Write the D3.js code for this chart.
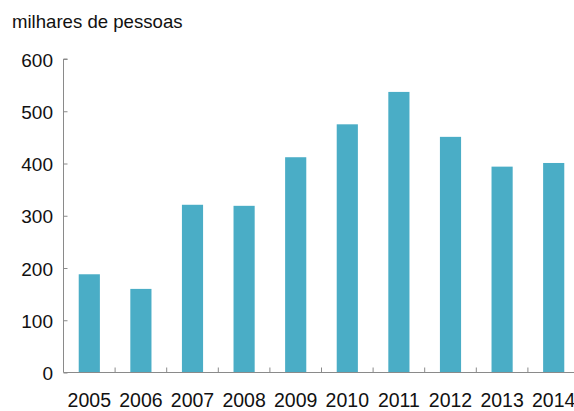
<!DOCTYPE html>
<html>
<head>
<meta charset="utf-8">
<script src="https://cdn.jsdelivr.net/npm/d3@7"></script>
<style>
  html, body { margin: 0; padding: 0; background: #fff; }
  svg { display: block; font-family: "Liberation Sans", Arial, sans-serif; }
</style>
</head>
<body>
<svg id="chart" width="574" height="411"></svg>
<script>
const years = ["2005","2006","2007","2008","2009","2010","2011","2012","2013","2014"];
const values = [188, 160, 321, 319, 412, 475, 537, 451, 394, 401];
const yTicks = [0, 100, 200, 300, 400, 500, 600];
const unitLabel = "milhares de pessoas";

const svg = d3.select("#chart");
const x0 = 63.5, x1 = 579.5, yTop = 59, yBase = 372.5;

const x = d3.scaleBand().domain(years).range([x0, x1]).paddingInner(0.59).paddingOuter(0.295);
const y = d3.scaleLinear().domain([0, 600]).range([yBase, yTop]);

const axisColor = "#8a8a8a";
const textColor = "#111";

// bars
svg.append("g").selectAll("rect").data(values).join("rect")
  .attr("x", (d, i) => x(years[i]))
  .attr("width", x.bandwidth())
  .attr("y", d => y(d))
  .attr("height", d => y(0) - y(d))
  .attr("fill", "#4aadc6");

// y axis with ticks pointing into the plot
const yAxis = svg.append("g").attr("transform", `translate(${x0},0)`)
  .call(d3.axisRight(y).tickValues(yTicks).tickSize(4).tickFormat(""));
yAxis.select(".domain").attr("stroke", axisColor).attr("d", `M4,${yTop}H0V${yBase}`);
yAxis.selectAll(".tick line").attr("stroke", axisColor);

svg.append("g").selectAll("text").data(yTicks).join("text")
  .attr("x", 53).attr("y", d => y(d)).attr("dy", "0.4em")
  .attr("text-anchor", "end").attr("font-size", 19).attr("fill", textColor)
  .text(d => d);

// x axis: baseline plus upward ticks between categories
const bounds = years.slice(1).map(yv => x(yv) - x.step() * x.paddingInner() / 2);
svg.append("line").attr("x1", x0).attr("x2", x1).attr("y1", yBase).attr("y2", yBase)
  .attr("stroke", axisColor);
svg.append("g").selectAll("line").data(bounds).join("line")
  .attr("x1", d => d).attr("x2", d => d)
  .attr("y1", yBase).attr("y2", yBase - 5)
  .attr("stroke", axisColor);

svg.append("g").selectAll("text").data(years).join("text")
  .attr("x", d => x(d) + x.bandwidth() / 2).attr("y", 407)
  .attr("text-anchor", "middle").attr("font-size", 19.5).attr("fill", textColor)
  .text(d => d);

svg.append("text").attr("x", 12).attr("y", 28)
  .attr("font-size", 18.6).attr("fill", textColor).text(unitLabel);
</script>
</body>
</html>
